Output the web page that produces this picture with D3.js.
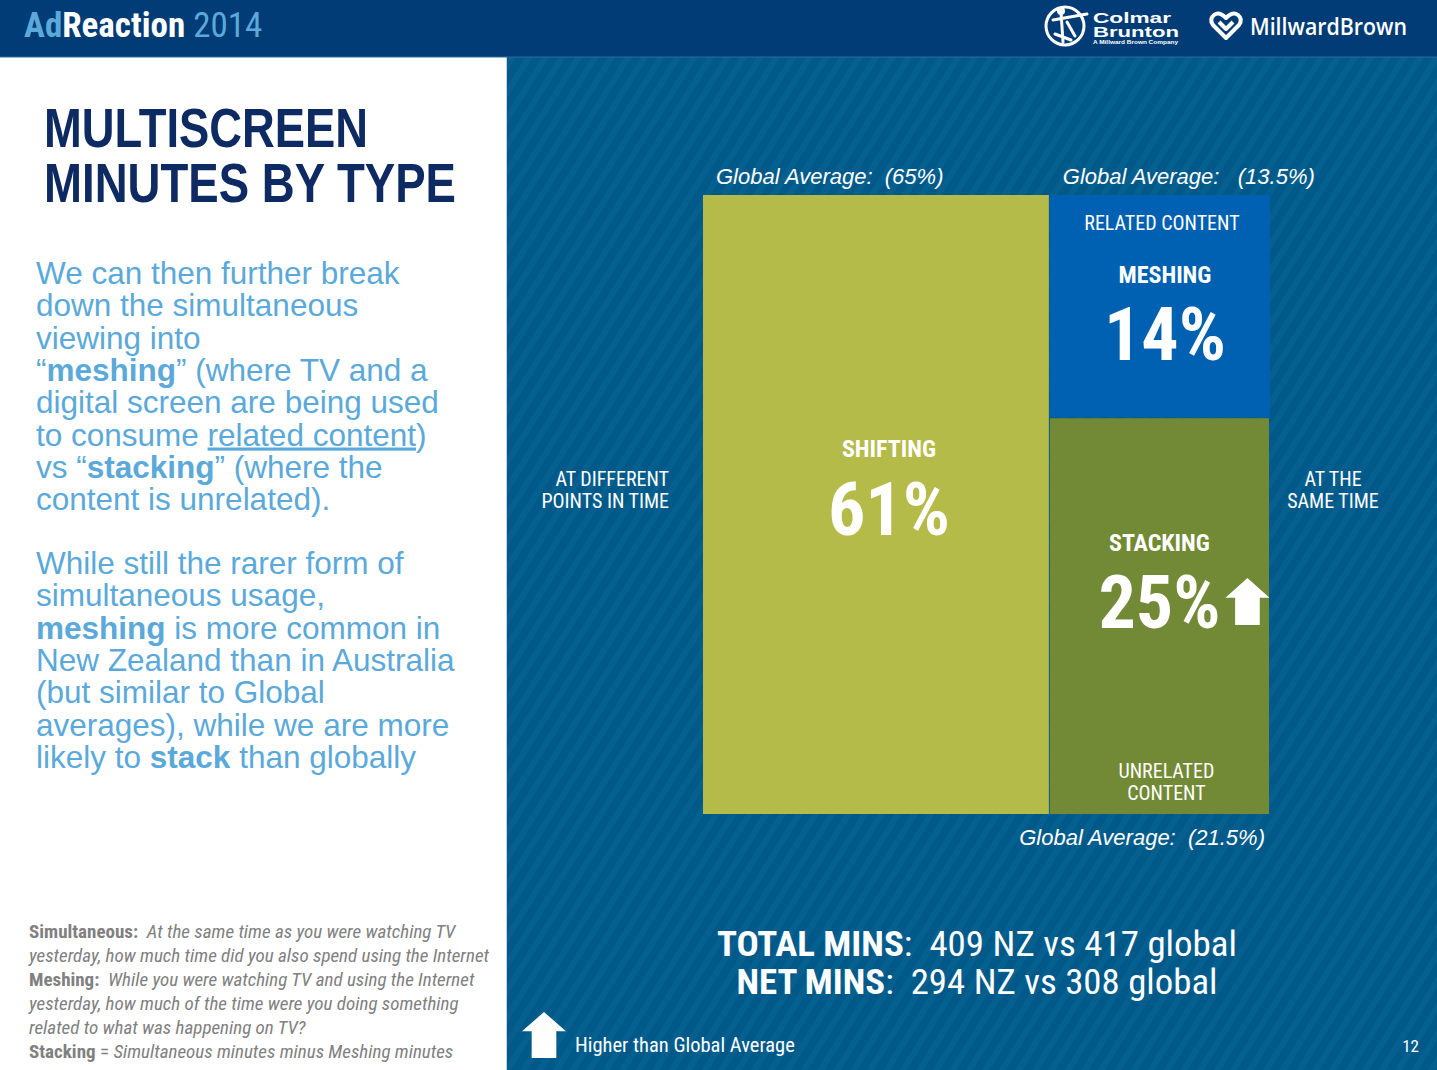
<!DOCTYPE html>
<html>
<head>
<meta charset="utf-8">
<script src="https://cdn.jsdelivr.net/npm/d3@7"></script>
<style>
  html, body { margin: 0; padding: 0; background: #fff; }
  svg { display: block; }
  text { white-space: pre; }
</style>
</head>
<body>
<div id="chart"></div>
<script>
// ---- data -----------------------------------------------------------
const segments      = ["SHIFTING", "MESHING", "STACKING"];
const shares        = [61, 14, 25];          // % of multiscreen minutes
const globalAverage = [65, 13.5, 21.5];      // global benchmark %
const higherThanAvg = [false, false, true];
const modes         = ["AT DIFFERENT|POINTS IN TIME", "AT THE|SAME TIME"];
const contentLabels = ["", "RELATED CONTENT", "UNRELATED|CONTENT"];
const totalMins     = { label: "TOTAL MINS", nz: 409, global: 417 };
const netMins       = { label: "NET MINS", nz: 294, global: 308 };

const W = 1437, Ht = 1070;
const C = {
  header: "#023c76", panel: "#01598a", stripe: "#06608f",
  shifting: "#b5bb49", meshing: "#0061b3", stacking: "#728a35",
  title: "#0e2a62", body: "#5aa9da", note: "#808080", light: "#5aa9da"
};
const NARROW = "'Liberation Sans Narrow','Arial Narrow','Roboto Condensed','Liberation Sans',sans-serif";
const SANS = "'Liberation Sans',Arial,sans-serif";

const svg = d3.select("#chart").append("svg")
  .attr("width", W).attr("height", Ht).attr("viewBox", `0 0 ${W} ${Ht}`);

// diagonal stripes for the dark panel
const defs = svg.append("defs");
const pat = defs.append("pattern").attr("id", "stripes")
  .attr("patternUnits", "userSpaceOnUse").attr("width", 14).attr("height", 14)
  .attr("patternTransform", "rotate(32)");
pat.append("rect").attr("width", 14).attr("height", 14).attr("fill", C.panel);
pat.append("rect").attr("width", 6).attr("height", 14).attr("fill", C.stripe);

// background panels
svg.append("rect").attr("x", 0).attr("y", 0).attr("width", W).attr("height", Ht).attr("fill", "#fff");
svg.append("rect").attr("x", 507).attr("y", 57).attr("width", W - 507).attr("height", Ht - 57).attr("fill", "url(#stripes)");
svg.append("line").attr("x1", 506.5).attr("x2", 506.5).attr("y1", 57).attr("y2", Ht)
  .attr("stroke", "#c9d3dc").attr("stroke-width", 1);
svg.append("rect").attr("x", 0).attr("y", 0).attr("width", W).attr("height", 57).attr("fill", C.header);
svg.append("line").attr("x1", 0).attr("x2", W).attr("y1", 57).attr("y2", 57)
  .attr("stroke", "#2f6a9a").attr("stroke-width", 1);

// ---- header ---------------------------------------------------------
const hd = svg.append("text").attr("x", 24).attr("y", 37)
  .style("font-family", NARROW).style("font-size", "35px");
hd.append("tspan").attr("fill", C.light).style("font-weight", 700).text("Ad");
hd.append("tspan").attr("fill", "#fff").style("font-weight", 700).text("Reaction ");
hd.append("tspan").attr("fill", C.light).text("2014");

// Colmar Brunton mark
const cb = svg.append("g").attr("transform", "translate(1065,26)");
cb.append("circle").attr("r", 19).attr("fill", "none").attr("stroke", "#fff").attr("stroke-width", 3);
cb.append("path").attr("d", "M-12,-6 L22,-12 M-4,-14 L-2,16 M-10,8 L6,14 M2,-4 L10,10")
  .attr("stroke", "#fff").attr("stroke-width", 3).attr("fill", "none").attr("stroke-linecap", "round");
cb.append("circle").attr("cx", -4).attr("cy", -15).attr("r", 4).attr("fill", "#fff");
svg.append("text").attr("x", 1093).attr("y", 23).attr("fill", "#fff")
  .style("font-family", SANS).style("font-weight", 700).style("font-size", "15px")
  .attr("textLength", 78).attr("lengthAdjust", "spacingAndGlyphs").text("Colmar");
svg.append("text").attr("x", 1093).attr("y", 37).attr("fill", "#fff")
  .style("font-family", SANS).style("font-weight", 700).style("font-size", "15px")
  .attr("textLength", 86).attr("lengthAdjust", "spacingAndGlyphs").text("Brunton");
svg.append("text").attr("x", 1093).attr("y", 44).attr("fill", "#fff")
  .style("font-family", SANS).style("font-weight", 700).style("font-size", "5px")
  .attr("textLength", 85).attr("lengthAdjust", "spacingAndGlyphs").text("A Millward Brown Company");

// MillwardBrown mark
svg.append("path")
  .attr("d", "M1226,38 L1213,25 Q1209,19 1214,15 Q1219,11 1226,18 Q1233,11 1238,15 Q1243,19 1239,25 Z M1219,22 L1226,29 L1233,22")
  .attr("fill", "none").attr("stroke", "#fff").attr("stroke-width", 4).attr("stroke-linejoin", "round");
svg.append("text").attr("x", 1250).attr("y", 35).attr("fill", "#fff")
  .style("font-family", "'Open Sans',sans-serif").style("font-weight", 600).style("font-size", "23px")
  .attr("textLength", 157).attr("lengthAdjust", "spacingAndGlyphs").text("MillwardBrown");

// ---- left panel -----------------------------------------------------
[["MULTISCREEN", 147, 324], ["MINUTES BY TYPE", 202, 412]].forEach(([t, y, len]) => {
  svg.append("text").attr("x", 44).attr("y", y).attr("fill", C.title)
    .style("font-family", SANS).style("font-weight", 700).style("font-size", "56px")
    .attr("textLength", len).attr("lengthAdjust", "spacingAndGlyphs").text(t);
});

// body copy: each line is a list of [text, style] runs
const para1 = [
  [["We can then further break"]],
  [["down the simultaneous"]],
  [["viewing into"]],
  [["“"], ["meshing", "b"], ["” (where TV and a"]],
  [["digital screen are being used"]],
  [["to consume "], ["related content", "u"], [")"]],
  [["vs “"], ["stacking", "b"], ["” (where the"]],
  [["content is unrelated)."]]
];
const para2 = [
  [["While still the rarer form of"]],
  [["simultaneous usage,"]],
  [["meshing", "b"], [" is more common in"]],
  [["New Zealand than in Australia"]],
  [["(but similar to Global"]],
  [["averages), while we are more"]],
  [["likely to "], ["stack", "b"], [" than globally"]]
];
function bodyLines(lines, y0) {
  lines.forEach((runs, i) => {
    const t = svg.append("text").attr("x", 36).attr("y", y0 + i * 32.3).attr("fill", C.body)
      .style("font-family", SANS).style("font-size", "31.5px");
    runs.forEach(([s, st]) => {
      const ts = t.append("tspan").text(s);
      if (st === "b") ts.style("font-weight", 700);
      if (st === "u") ts.style("text-decoration", "underline");
    });
  });
}
bodyLines(para1, 284);
bodyLines(para2, 574);

// footnote definitions
const notes = [
  [["Simultaneous:", "b"], ["  At the same time as you were watching TV", "i"]],
  [["yesterday, how much time did you also spend using the Internet", "i"]],
  [["Meshing:", "b"], ["  While you were watching TV and using the Internet", "i"]],
  [["yesterday, how much of the time were you doing something", "i"]],
  [["related to what was happening on TV?", "i"]],
  [["Stacking", "b"], [" = "], ["Simultaneous minutes minus Meshing minutes", "i"]]
];
notes.forEach((runs, i) => {
  const t = svg.append("text").attr("x", 29).attr("y", 938 + i * 24).attr("fill", C.note)
    .style("font-family", NARROW).style("font-size", "19px");
  runs.forEach(([s, st]) => {
    const ts = t.append("tspan").text(s);
    if (st === "b") ts.style("font-weight", 700);
    if (st === "i") ts.style("font-style", "italic");
  });
});

// ---- mosaic chart ---------------------------------------------------
const simShare = shares[1] + shares[2];
const x = d3.scaleLinear().domain([0, 100]).range([703, 1270]);
const yFull = d3.scaleLinear().domain([0, 100]).range([195, 814]);
const ySim = d3.scaleLinear().domain([0, simShare]).range([195, 814]);

const cells = [
  { name: segments[0], v: shares[0], g: globalAverage[0], up: higherThanAvg[0], fill: C.shifting,
    x0: x(0), x1: x(shares[0]), y0: yFull(0), y1: yFull(100) },
  { name: segments[1], v: shares[1], g: globalAverage[1], up: higherThanAvg[1], fill: C.meshing,
    x0: x(shares[0]) + 1, x1: x(100), y0: ySim(0), y1: ySim(shares[1]) },
  { name: segments[2], v: shares[2], g: globalAverage[2], up: higherThanAvg[2], fill: C.stacking,
    x0: x(shares[0]) + 1, x1: x(100) - 1, y0: ySim(shares[1]) + 1, y1: ySim(simShare) }
];

const chart = svg.append("g");
chart.selectAll("rect.cell").data(cells).join("rect").attr("class", "cell")
  .attr("x", d => d.x0).attr("y", d => d.y0)
  .attr("width", d => d.x1 - d.x0).attr("height", d => d.y1 - d.y0)
  .attr("fill", d => d.fill);

const white = sel => sel.attr("fill", "#fff").attr("text-anchor", "middle").style("font-family", NARROW);
const arrowPath = (cx, top, w, h) => {
  const hw = w / 2, sw = w * 0.28, hh = h * 0.42;
  return `M${cx},${top} L${cx + hw},${top + hh} L${cx + sw},${top + hh} L${cx + sw},${top + h}` +
         ` L${cx - sw},${top + h} L${cx - sw},${top + hh} L${cx - hw},${top + hh} Z`;
};

// segment name + big percent
const labelPos = [
  { cx: (cells[0].x0 + cells[0].x1) / 2 + 13, name: 457, pct: 535 },
  { cx: (cells[1].x0 + cells[1].x1) / 2 + 5, name: 283, pct: 360 },
  { cx: (cells[2].x0 + cells[2].x1) / 2, name: 551, pct: 628 }
];
cells.forEach((d, i) => {
  const p = labelPos[i];
  chart.append("text").call(white).attr("x", p.cx).attr("y", p.name)
    .style("font-weight", 700).style("font-size", "24px").text(d.name);
  const pt = chart.append("text").call(white).attr("x", p.cx).attr("y", p.pct)
    .style("font-weight", 700).style("font-size", "74px").text(d.v + "%");
  if (d.up) {
    const bb = pt.node().getBBox();
    chart.append("path").attr("fill", "#fff")
      .attr("d", arrowPath(bb.x + bb.width + 27, p.pct - 50, 44, 47));
  }
});

// content-type labels inside the simultaneous column
chart.append("text").call(white).attr("x", (cells[1].x0 + cells[1].x1) / 2 + 2).attr("y", 230)
  .style("font-size", "20px").text(contentLabels[1]);
contentLabels[2].split("|").forEach((t, i) => {
  chart.append("text").call(white).attr("x", (cells[2].x0 + cells[2].x1) / 2 + 7).attr("y", 778 + i * 22)
    .style("font-size", "20px").text(t);
});

// time-mode labels either side
modes[0].split("|").forEach((t, i) => {
  chart.append("text").attr("fill", "#fff").attr("text-anchor", "end").style("font-family", NARROW)
    .style("font-size", "20px").attr("x", x(0) - 34).attr("y", 486 + i * 22).text(t);
});
modes[1].split("|").forEach((t, i) => {
  chart.append("text").attr("fill", "#fff").attr("text-anchor", "middle").style("font-family", NARROW)
    .style("font-size", "20px").attr("x", x(100) + 63).attr("y", 486 + i * 22).text(t);
});

// global average annotations
const gItal = sel => sel.attr("fill", "#fff").style("font-family", SANS).style("font-style", "italic").style("font-size", "22px");
chart.append("text").call(gItal).attr("x", x(0) + 13).attr("y", 184)
  .text(`Global Average:  (${globalAverage[0]}%)`);
chart.append("text").call(gItal).attr("x", cells[1].x0 + 13).attr("y", 184)
  .text(`Global Average:   (${globalAverage[1]}%)`);
chart.append("text").call(gItal).attr("text-anchor", "end").attr("x", x(100) - 5).attr("y", 845)
  .text(`Global Average:  (${globalAverage[2]}%)`);

// totals
[[totalMins, 956, 520], [netMins, 994, 481]].forEach(([d, y, len]) => {
  const t = svg.append("text").attr("x", 977).attr("y", y).attr("fill", "#fff").attr("text-anchor", "middle")
    .style("font-family", NARROW).style("font-size", "35px")
    .attr("textLength", len).attr("lengthAdjust", "spacingAndGlyphs");
  t.append("tspan").style("font-weight", 700).text(d.label);
  t.append("tspan").text(`:  ${d.nz} NZ vs ${d.global} global`);
});

// legend arrow + page number
svg.append("path").attr("fill", "#fff").attr("d", arrowPath(544, 1012, 44, 46));
svg.append("text").attr("x", 575).attr("y", 1052).attr("fill", "#fff")
  .style("font-family", NARROW).style("font-size", "20.5px").text("Higher than Global Average");
svg.append("text").attr("x", 1419).attr("y", 1052).attr("fill", "#fff").attr("text-anchor", "end")
  .style("font-family", NARROW).style("font-size", "17px").text("12");
</script>
</body>
</html>
